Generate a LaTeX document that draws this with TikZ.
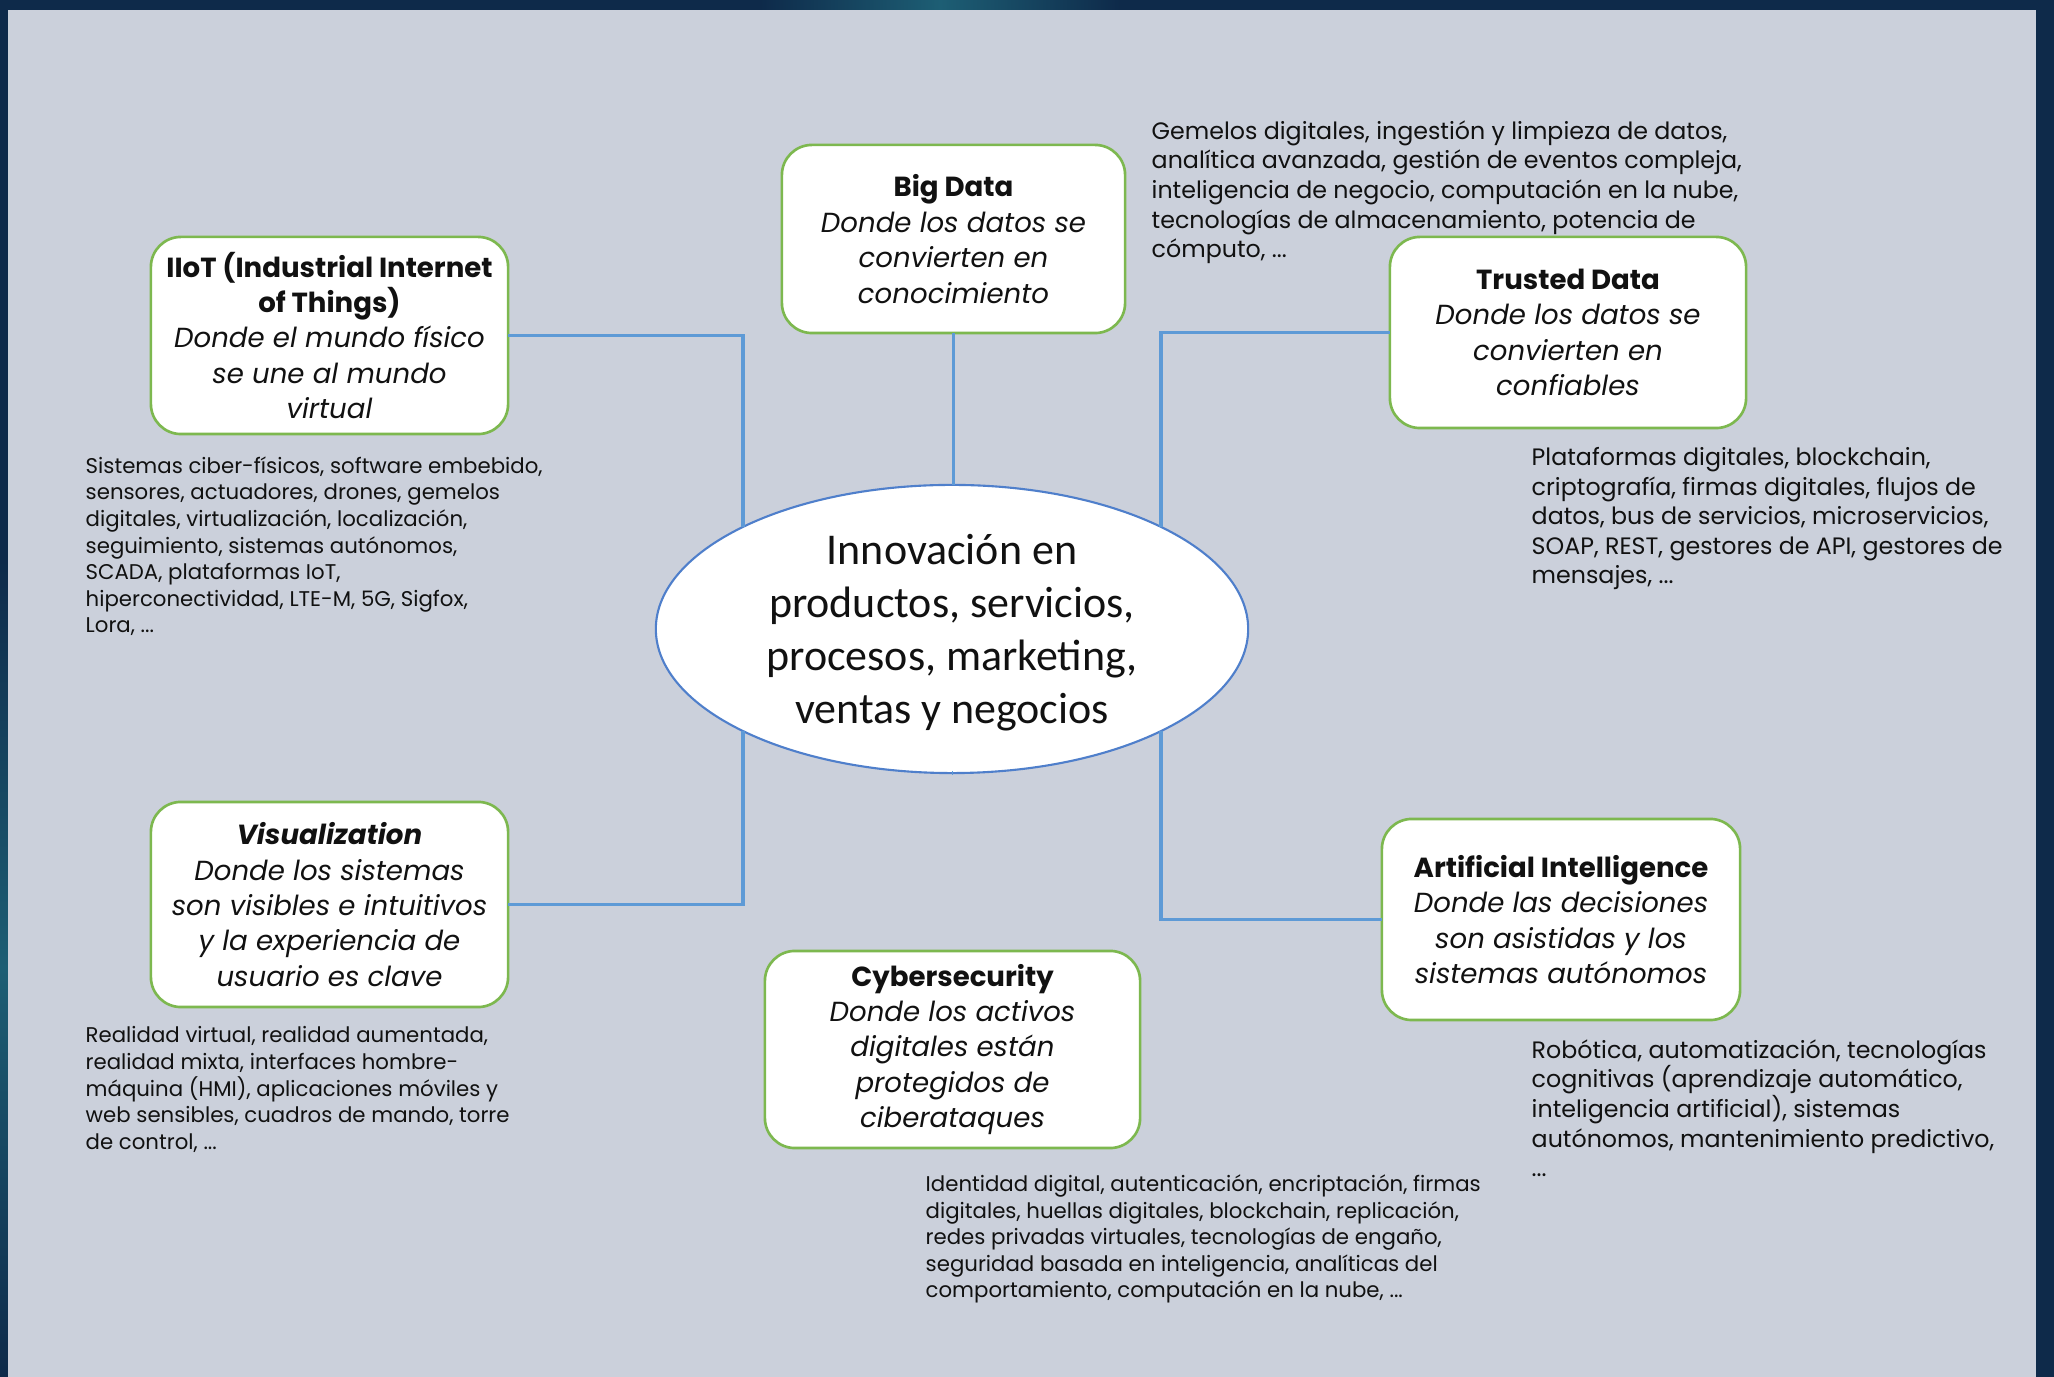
\documentclass[tikz,border=0pt]{standalone}
\usepackage{fontspec}
\setmainfont{Poppins}
\newfontfamily\calfont{Carlito}
\usetikzlibrary{shapes.geometric}
\definecolor{navy}{HTML}{0E2A4A}
\definecolor{glow}{HTML}{1D5E74}
\definecolor{panel}{HTML}{CBD0DB}
\definecolor{boxgreen}{HTML}{7DB84F}
\definecolor{linkblue}{HTML}{5E9AD6}
\definecolor{ovalblue}{HTML}{4F7FCB}
\definecolor{ink}{HTML}{111111}
\begin{document}
\begin{tikzpicture}[x=0.01cm,y=-0.01cm,
  topic/.style={draw=boxgreen, line width=0.75pt, fill=white, rounded corners=0.3cm,
    align=center, text=ink, inner sep=0pt, outer sep=0pt,
    font=\fontsize{7.85}{10.07}\selectfont},
  hub/.style={ellipse, draw=ovalblue, line width=0.6pt, fill=white, inner sep=0pt, outer sep=0pt,
    minimum width=5.92cm, minimum height=2.88cm},
  hubtext/.style={align=center, text=ink, inner sep=0pt, font=\calfont\fontsize{12.5}{15.1}\selectfont},
  notesmall/.style={anchor=north west, align=left, inner sep=0pt, text=ink,
    font=\fontsize{6.05}{7.56}\selectfont},
  notelarge/.style={anchor=north west, align=left, inner sep=0pt, text=ink,
    font=\fontsize{6.75}{8.4}\selectfont},
  link/.style={draw=linkblue, line width=1.1pt}
]
% frame and panel
\fill[navy] (0,0) rectangle (2054,1377);
\shade[left color=navy, right color=navy, middle color=glow] (760,0) rectangle (1120,10);
\shade[top color=navy, bottom color=navy, middle color=glow] (0,560) rectangle (8,1377);
\fill[panel] (8,10) rectangle (2036,1377);
\useasboundingbox (0,0) rectangle (2054,1377);

% central idea
\node[hub] (core) at (952,629) {};
\node[hubtext] (coretext) at ([yshift=-0.04cm]core.center) {Innovación en\\productos, servicios,\\procesos, marketing,\\ventas y negocios};

% topic boxes
\node[topic, minimum width=3.43cm, minimum height=1.88cm] (bigdata) at (953.5,239)
  {\textbf{Big Data}\\\textit{Donde los datos se}\\\textit{convierten en}\\\textit{conocimiento}};
\node[topic, minimum width=3.57cm, minimum height=1.97cm] (iiot) at (329.5,335.5)
  {\textbf{IIoT (Industrial Internet}\\\textbf{of Things)}\\\textit{Donde el mundo físico}\\\textit{se une al mundo}\\\textit{virtual}};
\node[topic, minimum width=3.56cm, minimum height=1.91cm] (trusted) at (1568,332.5)
  {\textbf{Trusted Data}\\\textit{Donde los datos se}\\\textit{convierten en}\\\textit{confiables}};
\node[topic, minimum width=3.57cm, minimum height=2.05cm] (visual) at (329.5,904.5)
  {\textbf{\textit{Visualization}}\\\textit{Donde los sistemas}\\\textit{son visibles e intuitivos}\\\textit{y la experiencia de}\\\textit{usuario es clave}};
\node[topic, minimum width=3.75cm, minimum height=1.97cm] (cyber) at (952.5,1049.5)
  {\textbf{Cybersecurity}\\\textit{Donde los activos}\\\textit{digitales están}\\\textit{protegidos de}\\\textit{ciberataques}};
\node[topic, minimum width=3.58cm, minimum height=2.01cm] (ai) at (1561,919.5)
  {\textbf{Artificial Intelligence}\\\textit{Donde las decisiones}\\\textit{son asistidas y los}\\\textit{sistemas autónomos}};

% connectors
\draw[link] (bigdata.south) -- (bigdata.south |- core.north);
\draw[link] (iiot.east) -| (core.154);
\draw[link] (trusted.west) -| (core.26);
\draw[link] (visual.east) -| (core.206);
\draw[link] (ai.west) -| (core.334);
\draw[link] (core.south) -- (core.south -| cyber.north);

% technology notes
\node[notelarge] (bigdatanote) at (1151,120)
  {Gemelos digitales, ingestión y limpieza de datos,\\analítica avanzada, gestión de eventos compleja,\\inteligencia de negocio, computación en la nube,\\tecnologías de almacenamiento, potencia de\\cómputo, ...};
\node[notesmall] (iiotnote) at (85,456)
  {Sistemas ciber-físicos, software embebido,\\sensores, actuadores, drones, gemelos\\digitales, virtualización, localización,\\seguimiento, sistemas autónomos,\\SCADA, plataformas IoT,\\hiperconectividad, LTE-M, 5G, Sigfox,\\Lora, ...};
\node[notelarge] (trustednote) at (1531,447)
  {Plataformas digitales, blockchain,\\criptografía, firmas digitales, flujos de\\datos, bus de servicios, microservicios,\\SOAP, REST, gestores de API, gestores de\\mensajes, ...};
\node[notesmall] (visualnote) at (85,1026)
  {Realidad virtual, realidad aumentada,\\realidad mixta, interfaces hombre-\\máquina (HMI), aplicaciones móviles y\\web sensibles, cuadros de mando, torre\\de control, ...};
\node[notesmall] (cybernote) at (925,1174)
  {Identidad digital, autenticación, encriptación, firmas\\digitales, huellas digitales, blockchain, replicación,\\redes privadas virtuales, tecnologías de engaño,\\seguridad basada en inteligencia, analíticas del\\comportamiento, computación en la nube, ...};
\node[notelarge] (ainote) at (1531,1039)
  {Robótica, automatización, tecnologías\\cognitivas (aprendizaje automático,\\inteligencia artificial), sistemas\\autónomos, mantenimiento predictivo,\\...};
\end{tikzpicture}
\end{document}
